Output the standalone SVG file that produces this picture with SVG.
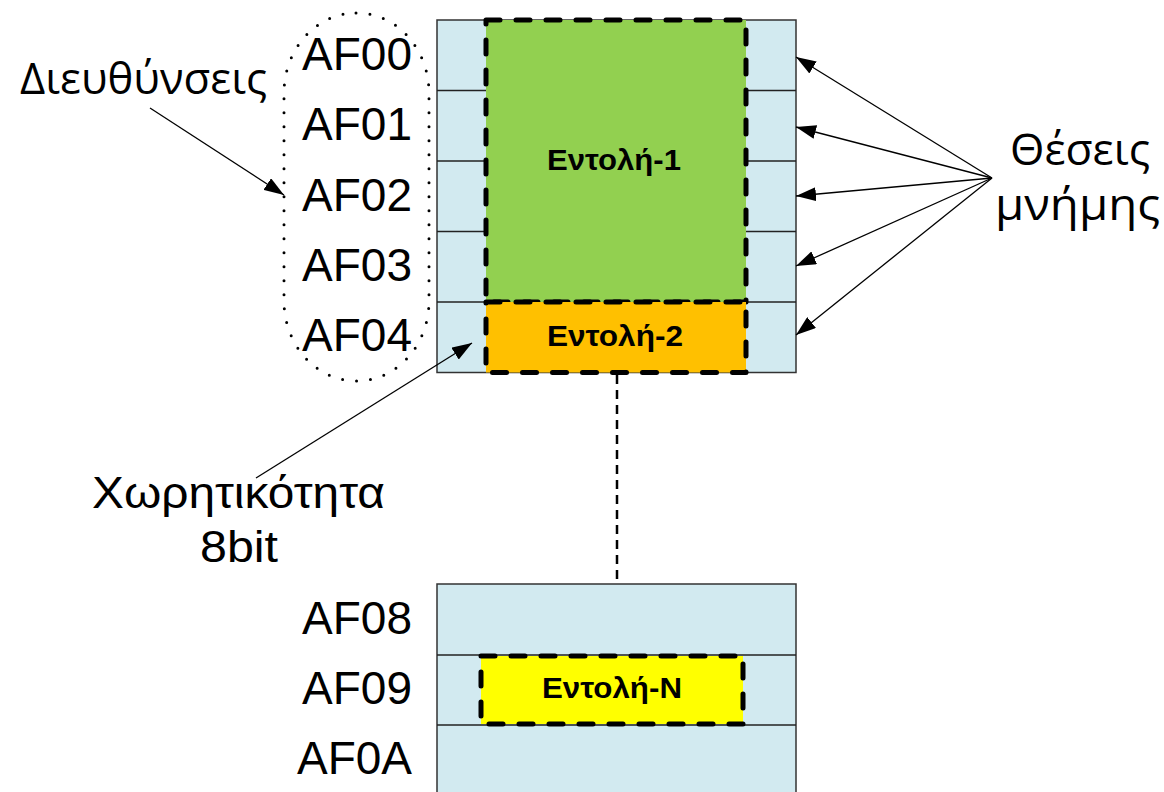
<svg xmlns="http://www.w3.org/2000/svg" width="1164" height="792" viewBox="0 0 1164 792">
<style>
.cell{fill:#D2EAF0;stroke:#333;stroke-width:1.5}
.div{stroke:#222;stroke-width:1.5}
.addr{font-family:"Liberation Sans",Arial,sans-serif;font-size:46px;fill:#000;text-anchor:end}
.lbl{font-family:"Open Sans","Liberation Sans",sans-serif;font-size:43px;fill:#000}
.lbl2{font-family:"Liberation Sans",Arial,sans-serif;font-size:45px;fill:#000}
.ins{font-family:"Liberation Sans",Arial,sans-serif;font-size:29px;font-weight:bold;fill:#000}
.box{stroke:#000;stroke-width:5;stroke-dasharray:14 16;stroke-linecap:round;stroke-linejoin:round}
.arr{stroke:#000;stroke-width:1.3;fill:none;marker-end:url(#ah)}
</style>
<defs>
<marker id="ah" viewBox="0 0 20 14" refX="20" refY="7" markerWidth="20" markerHeight="14" markerUnits="userSpaceOnUse" orient="auto">
<path d="M0,0 L20,7 L0,14 Z" fill="#000"/>
</marker>
</defs>
<rect width="1164" height="792" fill="#fff"/>

<g id="memory-top">
<rect class="cell" x="437" y="20" width="359" height="352.5"/>
<line class="div" x1="437" y1="90.5" x2="796" y2="90.5"/>
<line class="div" x1="437" y1="161" x2="796" y2="161"/>
<line class="div" x1="437" y1="231.5" x2="796" y2="231.5"/>
<line class="div" x1="437" y1="302" x2="796" y2="302"/>
</g>

<g id="memory-bottom">
<rect class="cell" x="437" y="584" width="359" height="220"/>
<line class="div" x1="437" y1="655" x2="796" y2="655"/>
<line class="div" x1="437" y1="725" x2="796" y2="725"/>
</g>

<g id="instr-1">
<rect class="box" x="486" y="20" width="260" height="282" fill="#92D050"/>
<text class="ins" x="547" y="170" textLength="134" lengthAdjust="spacingAndGlyphs">Εντολή-1</text>
</g>
<g id="instr-2">
<rect class="box" x="486" y="302" width="260" height="70.5" fill="#FFC000"/>
<text class="ins" x="547" y="346" textLength="136" lengthAdjust="spacingAndGlyphs">Εντολή-2</text>
</g>
<g id="instr-n">
<rect class="box" x="481" y="656" width="262" height="68" fill="#FFFF00"/>
<text class="ins" x="542" y="698" textLength="140" lengthAdjust="spacingAndGlyphs">Εντολή-N</text>
</g>

<g id="addresses">
<rect x="284" y="13" width="145" height="368" rx="72" ry="80" fill="none" stroke="#000" stroke-width="3" stroke-linecap="round" stroke-dasharray="0 14"/>
<text class="addr" x="412" y="70">AF00</text>
<text class="addr" x="412" y="140">AF01</text>
<text class="addr" x="412" y="211">AF02</text>
<text class="addr" x="412" y="281">AF03</text>
<text class="addr" x="412" y="351">AF04</text>
<text class="addr" x="412" y="634">AF08</text>
<text class="addr" x="412" y="704">AF09</text>
<text class="addr" x="412" y="774">AF0A</text>
</g>

<g id="label-addresses">
<text class="lbl" x="20" y="94" textLength="247" lengthAdjust="spacingAndGlyphs">Διευθύνσεις</text>
</g>
<g id="label-positions">
<text class="lbl" x="1010" y="165" textLength="140" lengthAdjust="spacingAndGlyphs">Θέσεις</text>
<text class="lbl" x="995" y="220" textLength="165" lengthAdjust="spacingAndGlyphs">μνήμης</text>
</g>
<g id="label-capacity">
<text class="lbl2" x="92" y="508" textLength="293" lengthAdjust="spacingAndGlyphs">Χωρητικότητα</text>
<text class="lbl2" x="200" y="562" textLength="78" lengthAdjust="spacingAndGlyphs">8bit</text>
</g>

<g id="connectors">
<line x1="617" y1="375" x2="617" y2="584" stroke="#000" stroke-width="2.5" stroke-dasharray="9 6"/>
<line class="arr" x1="150" y1="108" x2="284" y2="195"/>
<line class="arr" x1="256" y1="478" x2="472" y2="343"/>
<line class="arr" x1="992" y1="178" x2="796" y2="57"/>
<line class="arr" x1="992" y1="178" x2="796" y2="127"/>
<line class="arr" x1="992" y1="178" x2="796" y2="196"/>
<line class="arr" x1="992" y1="178" x2="796" y2="266"/>
<line class="arr" x1="992" y1="178" x2="796" y2="335"/>
</g>
</svg>
